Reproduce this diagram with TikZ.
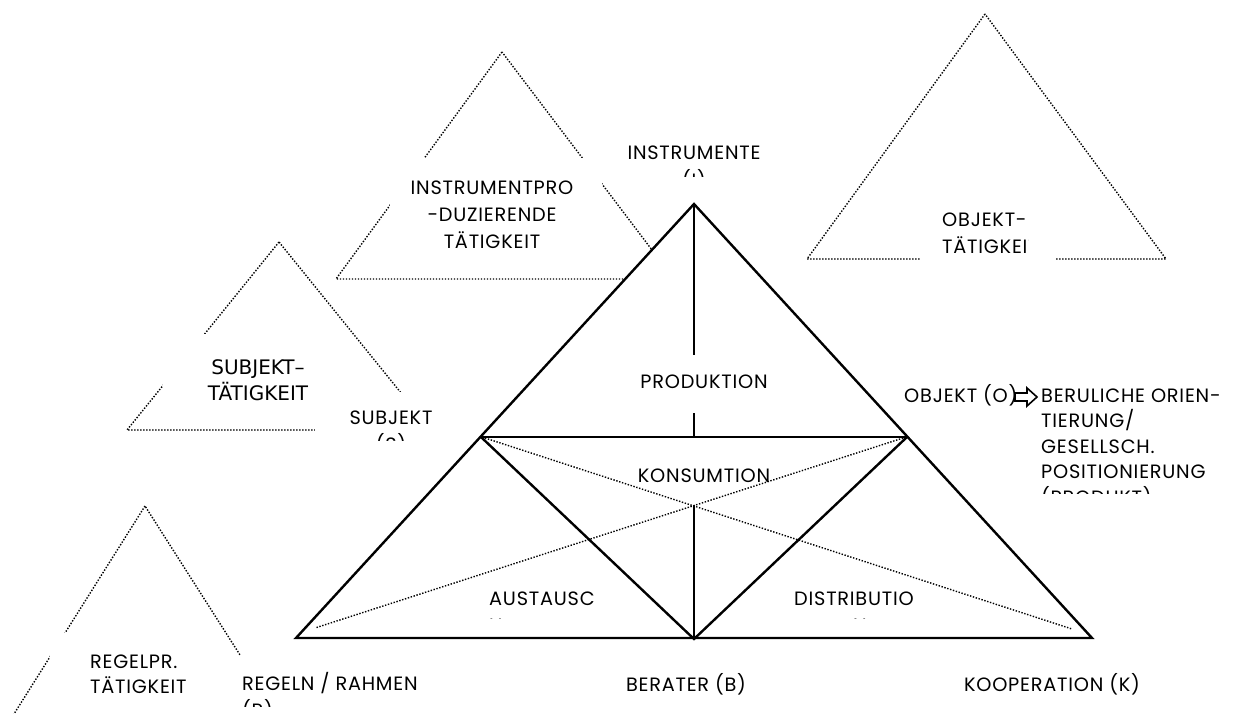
\documentclass[tikz,border=0pt]{standalone}
\usepackage{fontspec}
\newfontfamily\dejavu{DejaVu Sans}
\newfontfamily\poppins[LetterSpace=4]{Poppins}
\newcommand\gothfont{\poppins\fontsize{19.3}{25}\selectfont}
\tikzset{
  dotline/.style={line width=1.4pt, dash pattern=on 1.4pt off 1.6pt},
  solidline/.style={line width=2.4pt, line join=miter},
  cover/.style={fill=white, draw=none},
  txt/.style={font=\gothfont, inner sep=0pt, anchor=base},
  txtl/.style={txt, anchor=base west},
  stxt/.style={font=\dejavu\fontsize{20}{26}\selectfont, inner sep=0pt, anchor=base},
}
\begin{document}
\begin{tikzpicture}[x=1pt,y=-1pt]
\useasboundingbox (0,0) rectangle (1237,713);
\clip (0,0) rectangle (1237,713);

% --- dotted activity triangles in the background ---
\coordinate (ipA) at (502,52);
\coordinate (ipL) at (336,279);
\coordinate (ipR) at (674,279);
\draw[dotline] (ipA) -- (ipL) -- (ipR) -- cycle;
\fill[cover] (390,158) rectangle (602,270);

\coordinate (stA) at (279,242);
\coordinate (stL) at (127,430);
\coordinate (stR) at (431,430);
\draw[dotline] (stA) -- (stL) -- (stR) -- cycle;
\fill[cover] (163,334) rectangle (350,425);
\fill[cover] (315,392) rectangle (470,442);

\coordinate (rtA) at (145,506);
\coordinate (rtL) at (-15,760);
\coordinate (rtR) at (307,760);
\draw[dotline] (rtA) -- (rtL) -- (rtR) -- cycle;
\fill[cover] (50,633) rectangle (222,720);
\fill[cover] (240,655) rectangle (440,720);

\coordinate (otA) at (985,14);
\coordinate (otL) at (807,259);
\coordinate (otR) at (1166,259);
\draw[dotline] (otA) -- (otL) -- (otR) -- cycle;
\fill[cover] (920,195) rectangle (1055,275);

% --- main triangle ---
\coordinate (I) at (694,204);
\coordinate (R) at (296,638);
\coordinate (K) at (1092,638);
\coordinate (B) at (694,639);
\coordinate (L) at (481,437);
\coordinate (O) at (907,437);
\coordinate (M) at (694,437);
\coordinate (vA) at (694,355);
\coordinate (vB) at (694,413);
\coordinate (vC) at (694,505);
\coordinate (dL1) at (485,438);
\coordinate (dK) at (1072,629);
\coordinate (dO1) at (903,438);
\coordinate (dR) at (315,628);

\draw[solidline, fill=white] (R) -- (I) -- (K) -- cycle;
\draw[solidline] (L) -- (O);
\draw[solidline] (L) -- (B) -- (O);
\draw[solidline] (I) -- (vA);
\draw[solidline] (vB) -- (M);
\draw[solidline] (vC) -- (B);
\draw[dotline] (dL1) -- (dK);
\draw[dotline] (dO1) -- (dR);

% --- labels of the main triangle ---
\node[txt] (instr) at (694,159) {INSTRUMENTE};
\begin{scope}
  \clip (600,165) rectangle (800,176);
  \node[txt] (instrI) at (694,187) {(I)};
\end{scope}
\node[txt] (prod) at (704,388) {PRODUKTION};
\node[txt] (kons) at (704,482) {KONSUMTION};
\node[txtl] (aus) at (489,605) {AUSTAUSC};
\begin{scope}
  \clip (480,610) rectangle (600,618);
  \node[txtl] (ausH) at (489,632) {H};
\end{scope}
\node[txt] (dist) at (854,605) {DISTRIBUTIO};
\begin{scope}
  \clip (780,610) rectangle (920,618);
  \node[txt] (distN) at (860,632) {N};
\end{scope}

\node[txt] (subj) at (391,424) {SUBJEKT};
\begin{scope}
  \clip (330,430) rectangle (460,440);
  \node[txt] (subjS) at (391,451) {(S)};
\end{scope}
\node[txtl] (regeln) at (242,690) {REGELN / RAHMEN};
\begin{scope}
  \clip (235,695) rectangle (300,706);
  \node[txtl] (regelnR) at (242,717) {(R)};
\end{scope}
\node[txt] (berater) at (686,691) {BERATER (B)};
\node[txt] (koop) at (1052,691) {KOOPERATION (K)};

% --- labels of the activity triangles ---
\node[txt] (ip1) at (492,194) {INSTRUMENTPRO};
\node[txt] (ip2) at (492,221) {-DUZIERENDE};
\node[txt] (ip3) at (492,248) {TÄTIGKEIT};
\node[stxt] (st1) at (258,374) {SUBJEKT–};
\node[stxt] (st2) at (258,400) {TÄTIGKEIT};
\node[txtl] (rt1) at (90,668) {REGELPR.};
\node[txtl] (rt2) at (90,693) {TÄTIGKEIT};
\node[txtl] (ot1) at (942,226) {OBJEKT-};
\begin{scope}
  \clip (930,230) rectangle (1028,262);
  \node[txtl] (ot2) at (942,253) {TÄTIGKEIT};
\end{scope}

% --- object and its outcome ---
\node[txtl] (obj) at (904,402) {OBJEKT (O)};
\node[txtl] (out1) at (1041,402) {BERULICHE ORIEN-};
\node[txtl] (out2) at (1041,427) {TIERUNG/};
\node[txtl] (out3) at (1041,453) {GESELLSCH.};
\node[txtl] (out4) at (1041,478) {POSITIONIERUNG};
\begin{scope}
  \clip (1030,484) rectangle (1237,493);
  \node[txtl] (out5) at (1041,504) {(PRODUKT)};
\end{scope}
\draw[line width=1.6pt, fill=white, line join=miter]
  (1015,393) -- (1027,393) -- (1027,388) -- (1037,397) -- (1027,406)
  -- (1027,401) -- (1015,401) -- cycle;
\end{tikzpicture}
\end{document}
